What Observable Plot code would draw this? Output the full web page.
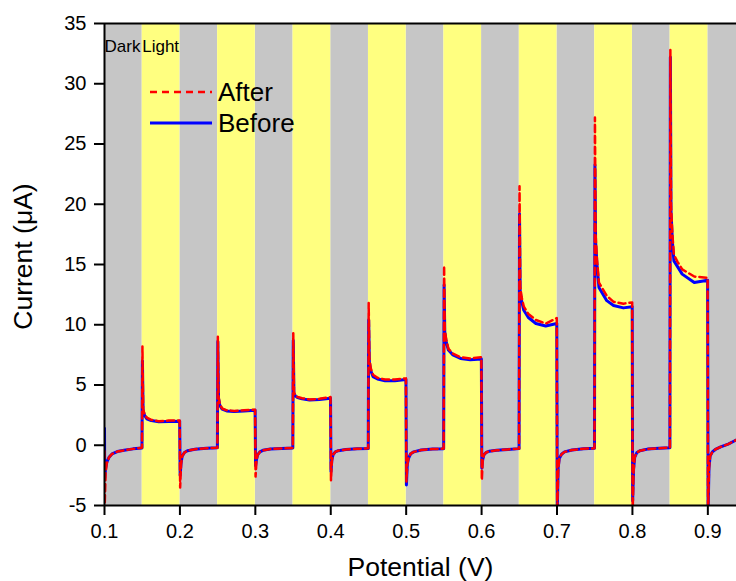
<!DOCTYPE html>
<html>
<head>
<meta charset="utf-8">
<script src="https://cdn.jsdelivr.net/npm/d3@7"></script>
<script src="https://cdn.jsdelivr.net/npm/@observablehq/plot@0.6"></script>
<style>
  html, body { margin: 0; padding: 0; background: #ffffff; }
  svg { display: block; }
</style>
</head>
<body>
<div id="chart"></div>
<script>
// ---- Data ----
const xTicks = [0.1, 0.2, 0.3, 0.4, 0.5, 0.6, 0.7, 0.8, 0.9];
const yTicks = [-5, 0, 5, 10, 15, 20, 25, 30, 35];

const darkBands = [[0.1, 0.15], [0.2, 0.25], [0.3, 0.35], [0.4, 0.45], [0.5, 0.55], [0.6, 0.65], [0.7, 0.75], [0.8, 0.85], [0.9, 0.95]];
const lightBands = [[0.15, 0.2], [0.25, 0.3], [0.35, 0.4], [0.45, 0.5], [0.55, 0.6], [0.65, 0.7], [0.75, 0.8], [0.85, 0.9]];
const bandLabels = [{x: 0.1, label: "Dark"}, {x: 0.15, label: "Light"}];

// Potential samples (V), shared by both curves
const potential = [
  0.1, 0.1003, 0.1015, 0.103, 0.106, 0.11, 0.117, 0.126, 0.138, 0.1497,
  0.1503, 0.1512, 0.153, 0.156, 0.162, 0.172, 0.185, 0.1997,
  0.2003, 0.2015, 0.203, 0.206, 0.21, 0.22, 0.235, 0.2497,
  0.2503, 0.2512, 0.253, 0.256, 0.262, 0.272, 0.285, 0.2997,
  0.3003, 0.3015, 0.303, 0.306, 0.31, 0.32, 0.335, 0.3497,
  0.3503, 0.3512, 0.353, 0.356, 0.362, 0.372, 0.385, 0.3997,
  0.4003, 0.4015, 0.403, 0.406, 0.41, 0.42, 0.435, 0.4497,
  0.4503, 0.4512, 0.453, 0.456, 0.462, 0.472, 0.485, 0.4997,
  0.5003, 0.5015, 0.503, 0.506, 0.51, 0.52, 0.535, 0.5497,
  0.5503, 0.5512, 0.553, 0.556, 0.562, 0.572, 0.585, 0.5997,
  0.6003, 0.6015, 0.603, 0.606, 0.61, 0.62, 0.635, 0.6497,
  0.6503, 0.6512, 0.653, 0.656, 0.662, 0.672, 0.685, 0.6997,
  0.7003, 0.7015, 0.703, 0.706, 0.71, 0.72, 0.735, 0.7497,
  0.7503, 0.7512, 0.753, 0.7556, 0.766, 0.775, 0.788, 0.7997,
  0.8003, 0.8015, 0.803, 0.806, 0.81, 0.82, 0.835, 0.8497,
  0.8503, 0.8512, 0.853, 0.855, 0.86, 0.866, 0.882, 0.8997,
  0.9003, 0.9015, 0.903, 0.906, 0.91, 0.917, 0.927, 0.935, 0.94
];

// Before (blue, solid), current in µA
const beforeCurrent = [
  1.4, -2.7, -1.9, -1.4, -1.0, -0.72, -0.52, -0.42, -0.3, -0.22,
  7.0, 2.9, 2.5, 2.2, 2.05, 1.95, 1.98, 2.0,
  -2.5, -1.5, -0.9, -0.6, -0.45, -0.33, -0.25, -0.2,
  8.6, 3.9, 3.3, 3.0, 2.85, 2.8, 2.85, 2.9,
  -1.7, -1.2, -0.8, -0.55, -0.42, -0.32, -0.26, -0.22,
  8.7, 4.3, 4.1, 3.95, 3.85, 3.75, 3.8, 3.9,
  -2.2, -1.2, -0.8, -0.55, -0.45, -0.35, -0.3, -0.28,
  10.4, 6.9, 6.2, 5.7, 5.5, 5.35, 5.35, 5.45,
  -3.3, -1.6, -1.1, -0.7, -0.55, -0.4, -0.32, -0.3,
  13.3, 9.4, 8.6, 7.9, 7.5, 7.2, 7.1, 7.15,
  -1.9, -1.2, -0.8, -0.6, -0.5, -0.42, -0.35, -0.28,
  19.2, 12.8, 12.0, 11.2, 10.6, 10.1, 9.9, 10.1,
  -5.6, -1.9, -1.1, -0.75, -0.55, -0.4, -0.3, -0.25,
  23.25, 16.9, 15.0, 13.1, 12.0, 11.6, 11.4, 11.5,
  -4.6, -2.0, -1.0, -0.6, -0.45, -0.32, -0.25, -0.2,
  32.2, 19.4, 16.9, 15.3, 14.8, 14.2, 13.5, 13.7,
  -5.6, -1.9, -0.9, -0.55, -0.35, -0.14, 0.1, 0.35, 0.5
];

// After (red, dashed), current in µA
const afterCurrent = [
  -0.5, -4.9, -2.3, -1.5, -1.0, -0.72, -0.52, -0.42, -0.3, -0.2,
  8.2, 3.0, 2.6, 2.3, 2.1, 2.0, 2.05, 2.05,
  -3.5, -1.6, -0.9, -0.6, -0.45, -0.33, -0.25, -0.2,
  9.0, 4.0, 3.4, 3.05, 2.9, 2.85, 2.9, 2.95,
  -2.6, -1.3, -0.8, -0.55, -0.42, -0.32, -0.26, -0.22,
  9.3, 4.4, 4.15, 4.0, 3.9, 3.8, 3.85, 4.0,
  -2.9, -1.3, -0.8, -0.55, -0.45, -0.35, -0.3, -0.25,
  11.8, 7.2, 6.4, 5.85, 5.6, 5.45, 5.45, 5.55,
  -3.0, -1.6, -1.1, -0.7, -0.55, -0.4, -0.32, -0.28,
  14.9, 9.6, 8.8, 8.0, 7.6, 7.3, 7.2, 7.3,
  -2.9, -1.3, -0.8, -0.6, -0.5, -0.42, -0.35, -0.28,
  21.5, 13.2, 12.3, 11.5, 10.9, 10.4, 10.1, 10.55,
  -5.6, -2.2, -1.1, -0.75, -0.55, -0.4, -0.3, -0.25,
  27.2, 17.5, 15.4, 13.5, 12.4, 11.9, 11.75, 11.85,
  -5.6, -2.2, -1.0, -0.6, -0.45, -0.32, -0.25, -0.2,
  32.8, 19.8, 17.5, 15.8, 15.2, 14.6, 14.0, 13.9,
  -5.6, -2.0, -0.9, -0.55, -0.35, -0.14, 0.1, 0.35, 0.5
];

const seriesNames = ["After", "Before"];
const seriesColors = ["#ff0000", "#0000ff"];

// ---- Build tables for the library ----
const bands = [
  ...darkBands.map(([a, b]) => ({x1: a, x2: b, kind: "dark"})),
  ...lightBands.map(([a, b]) => ({x1: a, x2: b, kind: "light"}))
];
const before = potential.map((x, i) => ({x, y: beforeCurrent[i]}));
const after = potential.map((x, i) => ({x, y: afterCurrent[i]}));

const FONT = "'Liberation Sans', Arial, Helvetica, sans-serif";

const chart = Plot.plot({
  width: 736,
  height: 581,
  marginLeft: 104,
  marginRight: 0,
  marginTop: 23,
  marginBottom: 76,
  style: {fontFamily: FONT, fontSize: "20px", background: "#ffffff", color: "#000", overflow: "visible"},
  x: {domain: [0.1, 0.938]},
  y: {domain: [-5, 35]},
  color: {domain: ["dark", "light"], range: ["#c6c6c6", "#ffff80"]},
  marks: [
    Plot.rect(bands, {x1: "x1", x2: "x2", y1: -5, y2: 35, fill: "kind", clip: true}),
    Plot.text(bandLabels, {x: "x", text: "label", frameAnchor: "top", lineAnchor: "top", dy: 16, dx: 0, textAnchor: "start", fontSize: 17, fill: "#000"}),
    Plot.line(before, {x: "x", y: "y", stroke: seriesColors[1], strokeWidth: 3, clip: true, curve: "linear"}),
    Plot.line(after, {x: "x", y: "y", stroke: seriesColors[0], strokeWidth: 2.5, strokeDasharray: "7,4", clip: true, curve: "linear"}),
    Plot.ruleY([35], {stroke: "#000", strokeWidth: 2}),
    Plot.ruleY([-5], {stroke: "#000", strokeWidth: 2}),
    Plot.ruleX([0.1], {stroke: "#000", strokeWidth: 2}),
    Plot.axisX({ticks: xTicks, tickSize: 10, tickPadding: 8, tickFormat: d3.format(".1f"), fontSize: 20, strokeWidth: 2, label: null}),
    Plot.axisY({ticks: yTicks, tickSize: 10, tickPadding: 8, tickFormat: d => String(d), fontSize: 20, strokeWidth: 2, label: null}),
    Plot.text(["Potential (V)"], {frameAnchor: "bottom", textAnchor: "middle", lineAnchor: "middle", dy: 62, fontSize: 26.5, fill: "#000"}),
    Plot.text(["Current (\u03bcA)"], {frameAnchor: "left", textAnchor: "middle", lineAnchor: "middle", dx: -81, dy: -8, rotate: -90, fontSize: 26.5, fill: "#000"})
  ]
});

// Legend (layout inside the plot area)
const svg = d3.select(chart);
const lg = svg.append("g").attr("font-family", FONT).attr("font-size", 26).attr("text-anchor", "start");
const legendRows = [
  {name: seriesNames[0], color: seriesColors[0], dash: "7,5", width: 2.5, y: 92},
  {name: seriesNames[1], color: seriesColors[1], dash: null, width: 3, y: 123}
];
legendRows.forEach(r => {
  lg.append("line").attr("x1", 150).attr("x2", 212).attr("y1", r.y).attr("y2", r.y)
    .attr("stroke", r.color).attr("stroke-width", r.width).attr("stroke-dasharray", r.dash);
  lg.append("text").attr("x", 218).attr("y", r.y + 8.5).attr("fill", "#000").text(r.name);
});

document.getElementById("chart").appendChild(chart);
</script>
</body>
</html>
